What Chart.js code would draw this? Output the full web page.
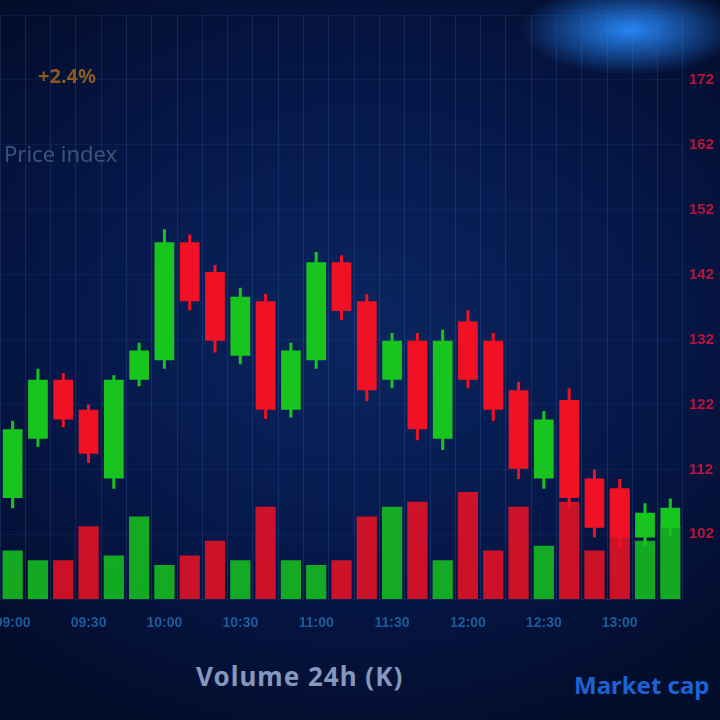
<!DOCTYPE html>
<html>
<head>
<meta charset="utf-8">
<script src="https://cdn.jsdelivr.net/npm/chart.js@4"></script>
<style>
  html, body { margin: 0; padding: 0; background: #020a22; }
  #wrap {
    position: relative; width: 720px; height: 720px; overflow: hidden;
    background:
      radial-gradient(ellipse 110px 45px at 630px 30px, rgba(40,140,255,0.95), rgba(40,140,255,0) 100%),
      radial-gradient(ellipse 520px 420px at 360px 330px, #0a2660 0%, #06184a 55%, #030d2c 100%);
    font-family: "Noto Sans", Roboto, sans-serif;
  }
  #box { position: absolute; left: 0; top: 0; width: 720px; height: 648px; }
  .lbl { position: absolute; white-space: nowrap; }
  #sub { left: 4px; top: 138px; color: #3a5578; font-size: 22px; }
  #chg { left: 38px; top: 62px; color: #8a5a20; font-size: 20px; font-weight: bold; }
  #vol { left: 196px; top: 658px; color: #8597bd; font-size: 26px; font-weight: bold; letter-spacing: 1px; }
  #depth { left: 574px; top: 668px; color: #1c63d6; font-size: 24px; font-weight: bold; }
</style>
</head>
<body>
<div id="wrap">
  <div id="box"><canvas id="chart"></canvas></div>
  <div class="lbl" id="chg">+2.4%</div>
  <div class="lbl" id="sub">Price index</div>
  <div class="lbl" id="vol">Volume 24h (K)</div>
  <div class="lbl" id="depth">Market cap</div>
</div>
<script>
// candle data
const labels = ['09:00', '09:10', '09:20', '09:30', '09:40', '09:50', '10:00', '10:10', '10:20', '10:30',
  '10:40', '10:50', '11:00', '11:10', '11:20', '11:30', '11:40', '11:50', '12:00', '12:10',
  '12:20', '12:30', '12:40', '12:50', '13:00', '13:10', '13:20'];
const opens  = [107.6, 116.7, 125.8, 121.2, 110.6, 125.8, 128.8, 147.0, 142.4, 129.5, 137.9, 121.2, 128.8, 143.9,
  137.9, 125.8, 131.8, 116.7, 134.8, 131.8, 124.2, 110.6, 122.7, 110.6, 109.1, 101.5, 103.0];
const closes = [118.2, 125.8, 119.7, 114.4, 125.8, 130.3, 147.0, 137.9, 131.8, 138.6, 121.2, 130.3, 143.9, 136.4,
  124.2, 131.8, 118.2, 131.8, 125.8, 121.2, 112.1, 119.7, 107.6, 103.0, 101.5, 105.3, 106.1];
const highs  = [119.5, 127.5, 126.8, 122.0, 126.5, 131.5, 149.0, 148.2, 143.5, 140.0, 139.0, 131.5, 145.5, 145.0,
  139.0, 133.0, 133.0, 133.5, 136.5, 133.0, 125.5, 121.0, 124.5, 112.0, 110.5, 106.8, 107.5];
const lows   = [106.0, 115.5, 118.5, 113.0, 109.0, 124.8, 127.5, 136.5, 130.0, 128.2, 119.8, 120.0, 127.5, 135.0,
  122.5, 124.5, 116.5, 115.0, 124.5, 119.5, 110.5, 109.0, 106.0, 101.5, 100.0, 100.2, 101.8];
const volumes = [50, 40, 40, 75, 45, 85, 35, 45, 60, 40, 95, 40, 35, 40,
  85, 95, 100, 40, 110, 50, 95, 55, 100, 50, 110, 60, 75];

const upColor = '#18c41e';
const downColor = '#f01224';

const bodies = opens.map((o, i) => [o, closes[i]]);
const wicks = highs.map((h, i) => [lows[i], h]);
const candleColors = opens.map((o, i) => closes[i] >= o ? upColor : downColor);
const volColors = opens.map((o, i) => closes[i] >= o ? 'rgba(24,196,30,0.85)' : 'rgba(240,18,36,0.85)');

new Chart(document.getElementById('chart'), {
  type: 'bar',
  data: {
    labels: labels,
    datasets: [
      {
        label: 'Volume',
        data: volumes,
        yAxisID: 'yv',
        backgroundColor: volColors,
        barPercentage: 0.8,
        categoryPercentage: 1,
        grouped: false,
        order: 3
      },
      {
        label: 'Wick',
        data: wicks,
        backgroundColor: candleColors,
        barPercentage: 0.12,
        categoryPercentage: 1,
        grouped: false,
        order: 2
      },
      {
        label: 'Price',
        data: bodies,
        backgroundColor: candleColors,
        barPercentage: 0.78,
        categoryPercentage: 1,
        grouped: false,
        order: 1
      }
    ]
  },
  options: {
    responsive: true,
    maintainAspectRatio: false,
    animation: false,
    layout: { padding: { left: 0, right: 0, top: 0, bottom: 0 } },
    plugins: {
      legend: { display: false },
      tooltip: { enabled: false }
    },
    scales: {
      x: {
        offset: true,
        grid: { color: 'rgba(70,125,215,0.2)', drawTicks: false },
        border: { display: false },
        afterFit: function (scale) {
          // let the first label run off the left edge like in the picture
          scale.paddingLeft = 0;
        },
        ticks: {
          color: '#1d5c9c',
          font: { size: 14, weight: 'bold' },
          padding: 16,
          autoSkip: false,
          maxRotation: 0,
          callback: function (val, idx) {
            return idx % 3 === 0 ? this.getLabelForValue(val) : '';
          }
        }
      },
      y: {
        position: 'right',
        min: 92,
        max: 182,
        grid: { color: 'rgba(70,125,215,0.1)', drawTicks: false },
        border: { display: false },
        ticks: {
          stepSize: 10,
          color: '#b8153c',
          font: { size: 15, weight: 'bold' },
          padding: 6,
          callback: function (val, idx, ticks) {
            // first and last tick labels are not shown in the picture
            return (idx === 0 || idx === ticks.length - 1) ? '' : val;
          }
        }
      },
      yv: {
        display: false,
        min: 0,
        max: 600
      }
    }
  }
});
</script>
</body>
</html>
